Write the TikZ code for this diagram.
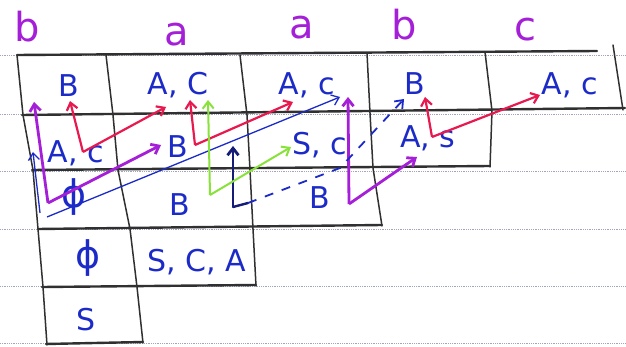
\documentclass[tikz,border=0pt]{standalone}
\usepackage{fontspec}
\setmainfont{DejaVu Sans}
\usetikzlibrary{arrows.meta}
\definecolor{ink}{HTML}{1C2BC8}
\definecolor{hdr}{HTML}{A51FD8}
\definecolor{redarr}{HTML}{E8194F}
\definecolor{purarr}{HTML}{A51FD8}
\definecolor{navy}{HTML}{141C78}
\definecolor{grn}{HTML}{88E23A}
\definecolor{gridc}{HTML}{303030}
\definecolor{ruledc}{HTML}{A0A6BC}
\begin{document}
\begin{tikzpicture}[x=1pt,y=-1pt,
  ruled/.style={ruledc,densely dotted,line width=0.8pt},
  hline/.style={gridc,line width=2.4pt,line cap=round},
  vline/.style={gridc,line width=1.5pt,line cap=round,line join=round},
  hdrtext/.style={hdr,font=\fontsize{40}{40}\selectfont,inner sep=0pt},
  cell/.style={ink,font=\fontsize{30}{30}\selectfont,inner sep=0pt},
  phicell/.style={ink,font=\fontsize{38}{38}\selectfont,inner sep=0pt},
  tip/.style={-{Straight Barb[length=7pt,width=11pt]}},
  redline/.style={redarr,line width=2.2pt,tip},
  purline/.style={purarr,line width=2.8pt,tip},
  blueline/.style={ink,line width=1.3pt,tip},
  navyline/.style={navy,line width=2.8pt,tip},
  grnline/.style={grn,line width=2pt,tip}]
\useasboundingbox[fill=white] (0,0) rectangle (626,347);
% ruled paper
\foreach \yy in {55,114,171,229,286,343} \draw[ruled] (0,\yy) -- (626,\yy);
% table horizontals
\draw[hline] (17,55) -- (597,51);
\draw[hline] (22,115) -- (625,108);
\draw[hline] (32,170) -- (490,166);
\draw[hline] (38,229) -- (382,225);
\draw[hline] (42,287) -- (256,285);
\draw[hline] (46,344) -- (143,342);
% table verticals
\draw[vline] (17,55) -- (23,115) -- (33,170) -- (38,229) -- (43,287) -- (47,345);
\draw[vline] (106,55) -- (113,115) -- (118,170) -- (130,229) -- (137,287) -- (143,343);
\draw[vline] (240,55) -- (247,115) -- (250,170) -- (253,229) -- (256,286);
\draw[vline] (367,53) -- (370,113) -- (373,168) -- (382,226);
\draw[vline] (485,52) -- (492,111) -- (490,167);
\draw[vline] (613,45) -- (623,110);
% header letters
\node[hdrtext] (h1) at (27,27) {b};
\node[hdrtext] (h2) at (177,35) {a};
\node[hdrtext] (h3) at (302,28) {a};
\node[hdrtext] (h4) at (404,25) {b};
\node[hdrtext] (h5) at (525,30) {c};
% cells row 1
\node[cell] (r1c1) at (69,86) {B};
\node[cell] (r1c2) at (178,85) {A, C};
\node[cell] (r1c3) at (307,85) {A, c};
\node[cell] (r1c4) at (415,84) {B};
\node[cell] (r1c5) at (570,85) {A, c};
% row 2
\node[cell] (r2c1) at (76,153) {A, c};
\node[cell] (r2c2) at (178,147) {B};
\node[cell] (r2c3) at (320,145) {S, c};
\node[cell] (r2c4) at (428,138) {A, s};
% row 3
\node[phicell] (r3c1) at (74,197) {ϕ};
\node[cell] (r3c2) at (180,205) {B};
\node[cell] (r3c3) at (320,198) {B};
% row 4
\node[phicell] (r4c1) at (88,258) {ϕ};
\node[cell] (r4c2) at (197,262) {S, C, A};
% row 5
\node[cell] (r5c1) at (86,320) {S};
% arrow end points
\coordinate (ra) at (83,152);
\coordinate (rat1) at (70,101);
\coordinate (rat2) at (166,107);
\coordinate (rb) at (195,145);
\coordinate (rbt1) at (190,100);
\coordinate (rbt2) at (293,102);
\coordinate (rc) at (432,137);
\coordinate (rct1) at (425,97);
\coordinate (rct2) at (540,95);
\coordinate (pa) at (48,203);
\coordinate (pat1) at (34,102);
\coordinate (pat2) at (161,145);
\coordinate (pb) at (349,204);
\coordinate (pbt1) at (348,97);
\coordinate (pbt2) at (417,157);
\coordinate (ba) at (40,213);
\coordinate (bat1) at (33,152);
\coordinate (bb) at (47,217);
\coordinate (bbt) at (340,97);
\coordinate (na) at (233,207);
\coordinate (nat) at (233,146);
\coordinate (nb) at (248,203);
\coordinate (nmid) at (340,168);
\coordinate (nbt) at (404,99);
\coordinate (ga) at (210,195);
\coordinate (gat1) at (208,100);
\coordinate (gat2) at (291,147);
% red arrows
\draw[redline] (ra) -- (rat1);
\draw[redline] (ra) -- (rat2);
\draw[redline] (rb) -- (rbt1);
\draw[redline] (rb) -- (rbt2);
\draw[redline] (rc) -- (rct1);
\draw[redline] (rc) -- (rct2);
% purple arrows
\draw[purline] (pa) -- (pat1);
\draw[purline] (pa) -- (pat2);
\draw[purline] (pb) -- (pbt1);
\draw[purline] (pb) -- (pbt2);
% blue arrows
\draw[blueline] (ba) -- (bat1);
\draw[blueline] (bb) -- (bbt);
\draw[navyline] (na) -- (nat);
\draw[navy,line width=2.4pt,line cap=round] (na) -- (nb);
\draw[blueline,line width=1.8pt,dash pattern=on 9pt off 9pt] (nb) -- (nmid) -- (nbt);
% green arrows
\draw[grnline] (ga) -- (gat1);
\draw[grnline] (ga) -- (gat2);
\end{tikzpicture}
\end{document}
